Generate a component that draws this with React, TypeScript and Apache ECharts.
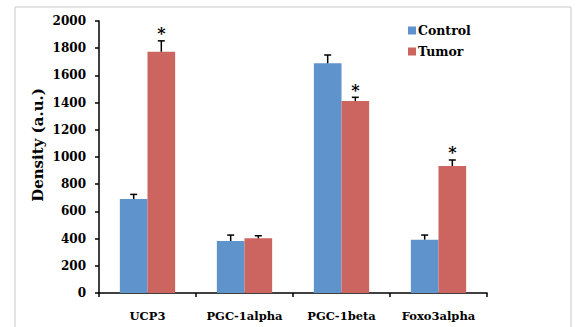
import React, { useEffect, useRef } from "react";
import * as echarts from "echarts";

const categories = ["UCP3", "PGC-1alpha", "PGC-1beta", "Foxo3alpha"];
const controlValues = [691, 382, 1689, 392];
const controlErrors = [34, 44, 61, 34];
const tumorValues = [1774, 402, 1412, 934];
const tumorErrors = [80, 19, 27, 44];
const tumorSignificant = [true, false, true, true];
const yTicks = { min: 0, max: 2000, interval: 200 };

const BLUE = "#5F93CB";
const RED = "#CC6460";
const FONT = "DejaVu Serif";
const GAP = 0.43;

export default function App() {
  const ref = useRef<HTMLDivElement>(null);
  useEffect(() => {
    if (!ref.current) return;
    const chart = echarts.init(ref.current, null, { renderer: "svg" });

    const errData = (vals: number[], errs: number[], side: number, sig?: boolean[]) =>
      vals.map((v, i) => [i, v, errs[i], side, sig && sig[i] ? 1 : 0]);

    const renderErr = (params: any, api: any) => {
      const cat = api.value(0);
      const val = api.value(1);
      const err = api.value(2);
      const side = api.value(3);
      const star = api.value(4);
      const catW = api.size([1, 0])[0];
      const barW = (catW * (1 - GAP)) / 2;
      const base = api.coord([cat, val]);
      const topPt = api.coord([cat, val + err]);
      const x = base[0] + side * barW / 2;
      const y0 = base[1];
      const y1 = topPt[1];
      const children: any[] = [
        { type: "line", shape: { x1: x, y1: y0, x2: x, y2: y1 }, style: { stroke: "#000", lineWidth: 1.5 } },
        { type: "line", shape: { x1: x - 3.5, y1: y1, x2: x + 3.5, y2: y1 }, style: { stroke: "#000", lineWidth: 1.5 } },
      ];
      if (star) {
        children.push({
          type: "text",
          x: x,
          y: y1 + 1,
          style: { text: "*", fill: "#000", font: `bold 16px ${FONT}`, align: "center", verticalAlign: "bottom" },
        });
      }
      return { type: "group", children };
    };

    chart.setOption({
      animation: false,
      backgroundColor: "#fff",
      grid: { left: 99, right: 91, top: 21, bottom: 34, containLabel: false },
      legend: {
        data: ["Control", "Tumor"],
        orient: "vertical",
        left: 403,
        top: 19,
        itemWidth: 8,
        itemHeight: 8,
        itemGap: 8,
        icon: "rect",
        textStyle: { fontFamily: FONT, fontWeight: "bold", fontSize: 12.5, color: "#000", padding: [0, 0, 0, -3] },
      },
      graphic: [
        {
          type: "rect",
          shape: { x: 15, y: 7, width: 556, height: 340 },
          style: { fill: "none", stroke: "#c8c8c8", lineWidth: 1 },
          silent: true,
        },
        {
          type: "text",
          x: 38,
          y: 145,
          rotation: Math.PI / 2,
          style: {
            text: "Density (a.u.)",
            font: `bold 15px ${FONT}`,
            fill: "#000",
            align: "center",
            verticalAlign: "middle",
          },
        },
      ],
      xAxis: {
        type: "category",
        data: categories,
        axisLine: { lineStyle: { color: "#000", width: 1.5 } },
        axisTick: { show: true, inside: false, length: 4, interval: 0, lineStyle: { color: "#000", width: 1.5 } },
        axisLabel: { interval: 0, fontFamily: FONT, fontWeight: "bold", fontSize: 11.5, color: "#000", margin: 17 },
      },
      yAxis: {
        type: "value",
        min: yTicks.min,
        max: yTicks.max,
        interval: yTicks.interval,
        axisLine: { show: true, lineStyle: { color: "#000", width: 1.5 } },
        axisTick: { show: true, length: 4, lineStyle: { color: "#000", width: 1.5 } },
        splitLine: { show: false },
        axisLabel: {
          fontFamily: FONT,
          fontWeight: "bold",
          fontSize: 12,
          color: "#000",
          margin: 13,
          formatter: (v: number) => String(v),
        },
      },
      series: [
        {
          name: "Control",
          type: "bar",
          data: controlValues,
          itemStyle: { color: BLUE },
          barGap: "0%",
          barCategoryGap: "43%",
        },
        {
          name: "Tumor",
          type: "bar",
          data: tumorValues,
          itemStyle: { color: RED },
          barGap: "0%",
          barCategoryGap: "43%",
        },
        {
          type: "custom",
          name: "ctrlErr",
          renderItem: renderErr,
          data: errData(controlValues, controlErrors, -1),
          z: 10,
        },
        {
          type: "custom",
          name: "tumErr",
          renderItem: renderErr,
          data: errData(tumorValues, tumorErrors, 1, tumorSignificant),
          z: 10,
        },
      ],
    });
    return () => chart.dispose();
  }, []);
  return (
    <div
      ref={ref}
      style={{ position: "fixed", left: 0, top: 0, width: 578, height: 327 }}
    />
  );
}
